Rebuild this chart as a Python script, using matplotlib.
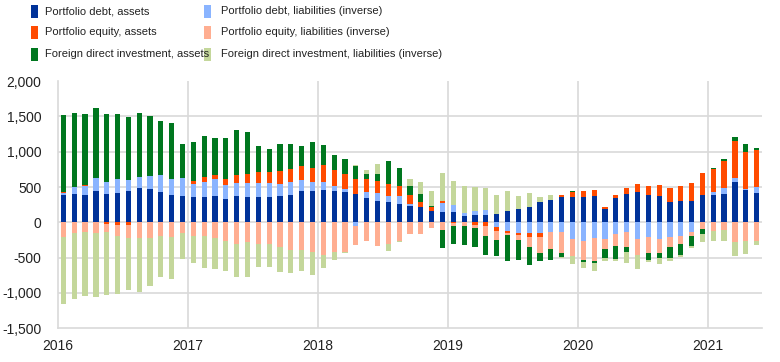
import numpy as np
import matplotlib
matplotlib.use("Agg")
import matplotlib.pyplot as plt
from matplotlib.patches import Rectangle
from matplotlib.ticker import FuncFormatter

plt.rcParams['font.family'] = ['Liberation Sans', 'DejaVu Sans']

years = ["2016", "2017", "2018", "2019", "2020", "2021"]

pd_assets = [389, 403, 389, 446, 403, 417, 446, 488, 474, 431, 389, 374,
             360, 360, 374, 332, 374, 360, 360, 360, 374, 389, 446, 446,
             460, 446, 431, 403, 346, 303, 289, 261, 232, 218, 161, 147,
             147, 90, 104, 104, 118, 161, 190, 218, 289, 318, 360, 360,
             360, 374, 190, 346, 403, 431, 389, 374, 289, 303, 303, 389,
             389, 403, 574, 460, 417]
pd_liab = [28, 100, 128, 185, 171, 199, 156, 156, 185, 242, 228, 256,
           185, 213, 242, 199, 185, 199, 199, 199, 171, 185, 156, 128,
           114, 71, 43, -52, 85, 114, 85, 114, 28, 0, 0, 128,
           100, 43, 57, 71, -66, -123, -152, -152, -152, -137, -137, -237,
           -265, -223, -237, -166, -137, -237, -209, -237, -209, -194, -137, 0,
           43, 85, 57, 14, 85]
pe_assets = [15, 0, 14, 0, -19, -33, -33, 0, 0, 0, 0, 0,
             43, 71, 57, 85, 114, 128, 156, 156, 185, 185, 199, 199,
             242, 228, 213, 213, 185, 171, 171, 142, 128, 71, 57, 28,
             -14, 0, -38, -52, -57, -28, -28, -57, -57, 0, 28, 71,
             85, 85, 28, 43, 85, 114, 128, 156, 199, 213, 256, 313,
             327, 384, 526, 526, 526]
pe_liab = [-204, -147, -133, -147, -119, -161, -190, -223, -223, -194, -209, -147,
           -194, -194, -223, -261, -308, -280, -308, -308, -351, -393, -393, -422,
           -465, -422, -422, -270, -265, -337, -308, -265, -166, -166, -81, -109,
           -38, -52, -43, -142, -128, -28, -71, -142, -228, -242, -299, -242,
           -270, -327, -142, -171, -213, -228, -228, -199, -142, -114, -57, -95,
           -123, -109, -280, -265, -265]
fdi_assets = [1095, 1052, 1010, 995, 967, 924, 896, 910, 853, 768, 796, 483,
              555, 583, 526, 583, 640, 597, 370, 327, 384, 355, 284, 370,
              284, 213, 213, 185, 71, 100, 327, 256, 128, 114, 14, -256,
              -256, -270, -270, -270, -228, -370, -284, -256, -114, -156, -57, 14,
              -28, -28, -128, -185, -71, 0, -100, -71, -156, -156, -142, -71,
              14, 28, 57, 114, 28]
fdi_liab = [-957, -943, -915, -915, -896, -825, -739, -768, -682, -583, -597, -370,
            -384, -455, -441, -431, -469, -498, -327, -327, -355, -327, -299, -327,
            -185, -114, -14, 14, 57, 142, -100, -14, 100, 171, 213, 398,
            341, 384, 341, 313, 270, 284, 185, 199, 71, 71, -14, -114,
            -85, -114, -43, -28, -156, -199, -28, -85, -43, -28, -28, -114,
            -142, -156, -199, -185, -57]

# stacking order
series = [pd_assets, pd_liab, pe_assets, pe_liab, fdi_assets, fdi_liab]
names = ["Portfolio debt, assets", "Portfolio debt, liabilities (inverse)",
         "Portfolio equity, assets", "Portfolio equity, liabilities (inverse)",
         "Foreign direct investment, assets",
         "Foreign direct investment, liabilities (inverse)"]
colors = ["#003299", "#8AB4FF", "#FF4B00", "#FFAE91", "#00771F", "#C4D79B"]

fig = plt.figure(figsize=(7.8, 3.62), dpi=100)
ax = fig.add_axes([58 / 780, 1 - 328.3 / 362, (762 - 58) / 780, (328.3 - 81.1) / 362])

n = len(pd_assets)
x = np.arange(n)
pos_base = np.zeros(n)
neg_base = np.zeros(n)
for vals, col in zip(series, colors):
    v = np.array(vals, dtype=float)
    p = np.where(v > 0, v, 0)
    q = np.where(v < 0, v, 0)
    ax.bar(x, p, bottom=pos_base, width=0.48, color=col, linewidth=0, zorder=3)
    ax.bar(x, q, bottom=neg_base, width=0.48, color=col, linewidth=0, zorder=3)
    pos_base += p
    neg_base += q

ax.set_xlim(-0.5, 64.5)
ax.set_ylim(-1500, 2000)
ax.set_yticks(np.arange(-1500, 2001, 500))
ax.yaxis.set_major_formatter(FuncFormatter(lambda v, _: f"{int(v):,}"))
grid_c = "#D9D9D9"
for yv in np.arange(-1000, 1501, 500):
    ax.axhline(yv, color=grid_c, linewidth=1.2, zorder=1)
year_pos = [-0.5 + 12 * i for i in range(len(years))]
for xp in year_pos[1:]:
    ax.axvline(xp, color=grid_c, linewidth=1.2, zorder=1)
ax.set_xticks(year_pos)
ax.set_xticklabels(years)
for s in ["top", "right"]:
    ax.spines[s].set_visible(False)
for s in ["left", "bottom"]:
    ax.spines[s].set_color(grid_c)
    ax.spines[s].set_linewidth(1.2)
ax.tick_params(axis="both", length=0, labelsize=10, colors="#222222")
ax.tick_params(axis="y", pad=12)
ax.tick_params(axis="x", pad=8)

# legend
W, H = 780, 362
col_pos = [(31, 45), (204, 221)]
rows_y = [11, 32, 54]
order = [[0, 2, 4], [1, 3, 5]]
for c, (mx, tx) in enumerate(col_pos):
    for r, idx in enumerate(order[c]):
        yc = rows_y[r]
        fig.patches.append(Rectangle((mx / W, 1 - (yc + 6.5) / H), 7 / W, 13 / H,
                                     transform=fig.transFigure, color=colors[idx],
                                     linewidth=0))
        fig.text(tx / W, 1 - yc / H, names[idx], fontsize=8, va="center",
                 ha="left", color="#222222")

fig.savefig("out.png", dpi=100)
